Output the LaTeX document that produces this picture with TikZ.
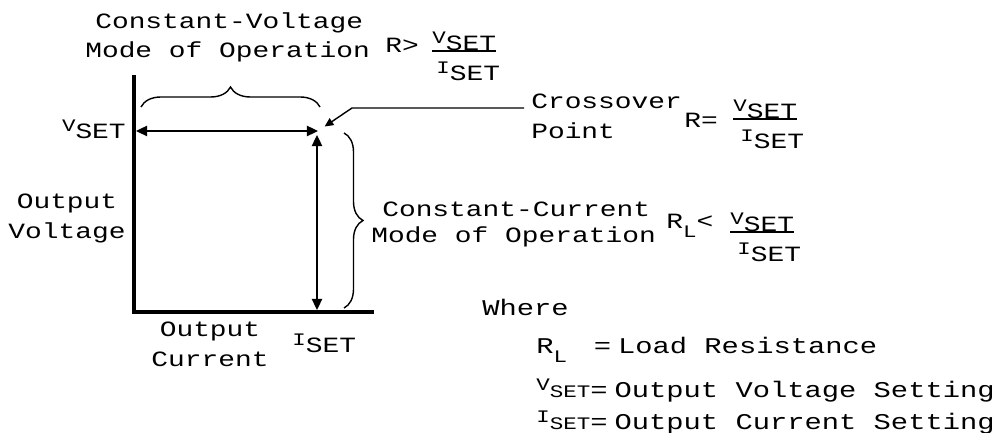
\documentclass[tikz,border=0pt]{standalone}
\usepackage{fontspec}
\usepackage{tikz}
\usetikzlibrary{arrows.meta,decorations.pathreplacing}
\newfontfamily\plotfont[FakeStretch=1.28]{Liberation Mono}
\newcommand{\plotsize}{\plotfont\fontsize{15.5}{21}\selectfont}
\newcommand{\keysize}{\plotfont\fontsize{16}{21}\selectfont}
\newcommand{\smallplot}{\fontsize{12.5}{12.5}\selectfont}
\newcommand{\setsym}[1]{\raisebox{5pt}{\smallplot #1}SET}
\newcommand{\rlsym}{R\raisebox{-6pt}{\smallplot L}}
\tikzset{
  axisline/.style={line width=1mm, line cap=rect},
  dimarrow/.style={{Triangle[length=2.8mm,width=2.6mm]}-{Triangle[length=2.8mm,width=2.6mm]}, line width=0.4mm},
  leadarrow/.style={-{Triangle[length=2.2mm,width=2mm]}, line width=0.35mm},
  modebrace/.style={decorate, decoration={brace, amplitude=#1}, line width=0.35mm},
  plotlabel/.style={font=\plotsize, inner sep=0pt, align=left},
  keylabel/.style={font=\keysize, inner sep=0pt, anchor=base west},
  fracline/.style={line width=0.45mm},
}

\begin{document}
\begin{tikzpicture}[x=0.25mm, y=-0.25mm]
  \useasboundingbox (0,0) rectangle (1006,433);

  % Axes and operating lines
  \coordinate (origin) at (134,312);
  \coordinate (vtop) at (134,77);
  \coordinate (iend) at (372,312);
  \coordinate (vsetpt) at (136,131);
  \coordinate (xpt) at (318,131);
  \coordinate (ipt) at (317,135);
  \coordinate (ibase) at (317,310);
  \draw[axisline] (vtop) -- (origin) -- (iend);
  \draw[dimarrow] (vsetpt) -- (xpt);
  \draw[dimarrow] (ipt) -- (ibase);

  % Braces for the two modes
  \coordinate (cvbraceL) at (141,107);
  \coordinate (cvbraceR) at (320,107);
  \coordinate (ccbraceT) at (344,133);
  \coordinate (ccbraceB) at (344,308);
  \draw[modebrace=5mm] (cvbraceL) -- (cvbraceR);
  \draw[modebrace=4.75mm] (ccbraceT) -- (ccbraceB);

  % Axis labels
  \node[plotlabel, anchor=south east] (vsetlbl) at (126,139) {\setsym{V}};
  \node[plotlabel, align=center, anchor=north] (outvolt) at (67,194) {Output\\Voltage};
  \node[plotlabel, align=center, anchor=north] (outcurr) at (210,322) {Output\\Current};
  \node[plotlabel, anchor=south west] (isetlbl) at (292,353) {\setsym{I}};

  % Constant-voltage mode
  \node[plotlabel, anchor=base west] (cvtitle) at (95,29) {Constant-Voltage};
  \node[plotlabel, anchor=base west] (cvmode) at (85,58) {Mode of Operation};
  \node[plotlabel, anchor=base west] (cvrel) at (385,53) {R>};
  \node[plotlabel, anchor=south west] (cvnum) at (432,51) {\setsym{V}};
  \node[plotlabel, anchor=north west] (cvden) at (436,62) {\setsym{I}};
  \draw[fracline] (cvnum.south west) -- (cvnum.south east);

  % Crossover point
  \node[plotlabel, anchor=north west] (xover) at (531,94) {Crossover\\Point};
  \node[plotlabel, anchor=base west] (xrel) at (684,128) {R=};
  \node[plotlabel, anchor=south west] (xnum) at (733,119) {\setsym{V}};
  \node[plotlabel, anchor=north west] (xden) at (740,130) {\setsym{I}};
  \draw[fracline] (xnum.south west) -- (xnum.south east);
  \coordinate (leadend) at (524,108);
  \coordinate (leadknee) at (352,108);
  \draw[leadarrow, shorten >=2mm] (leadend) -- (leadknee) -- (xpt);

  % Constant-current mode
  \node[plotlabel, anchor=base west] (cctitle) at (382,217) {Constant-Current};
  \node[plotlabel, anchor=base west] (ccmode) at (371,243) {Mode of Operation};
  \node[plotlabel, anchor=base west] (ccrel) at (666,229) {\rlsym<};
  \node[plotlabel, anchor=south west] (ccnum) at (730,232) {\setsym{V}};
  \node[plotlabel, anchor=north west] (ccden) at (737,243) {\setsym{I}};
  \draw[fracline] (ccnum.south west) -- (ccnum.south east);

  % Legend
  \node[keylabel] (where) at (482,316) {Where};
  \node[keylabel] (keyrl) at (536,354) {\rlsym\hspace{19pt}=\hspace{5pt}Load Resistance};
  \node[keylabel] (keyvset) at (536,398) {{\smallplot\setsym{V}}=\hspace{5pt}Output Voltage Setting};
  \node[keylabel] (keyiset) at (536,430) {{\smallplot\setsym{I}}=\hspace{5pt}Output Current Setting};
\end{tikzpicture}
\end{document}
